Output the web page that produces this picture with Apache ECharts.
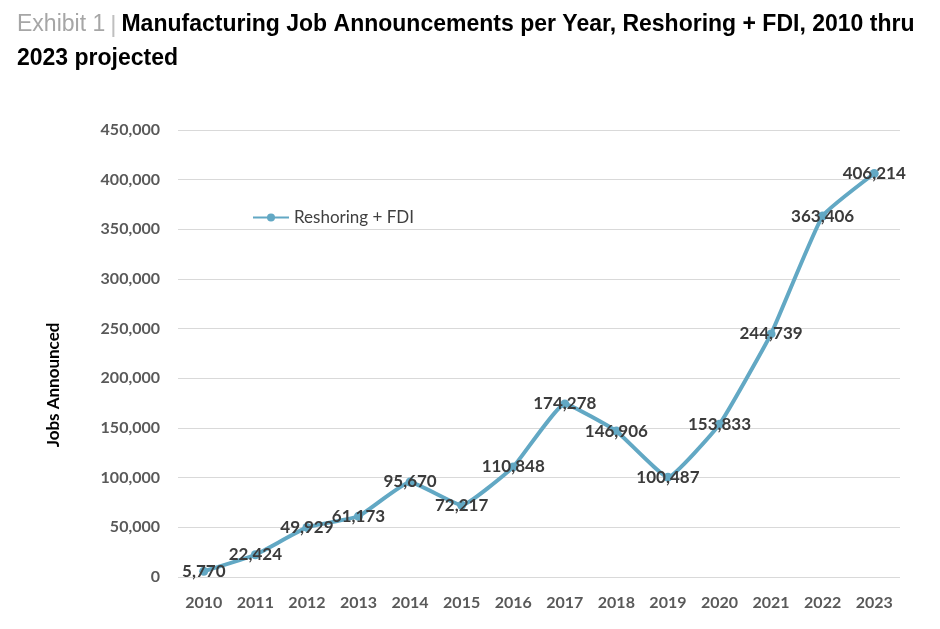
<!DOCTYPE html>
<html>
<head>
<meta charset="utf-8">
<script src="https://cdn.jsdelivr.net/npm/echarts@6/dist/echarts.min.js"></script>
<style>
  html, body { margin: 0; padding: 0; background: #fff; }
  #chart { width: 940px; height: 629px; }
</style>
</head>
<body>
<div id="chart"></div>
<script>
// 数据
var years = ["2010", "2011", "2012", "2013", "2014", "2015", "2016",
  "2017", "2018", "2019", "2020", "2021", "2022", "2023"];
var jobs = [5770, 22424, 49929, 61173, 95670, 72217, 110848,
  174278, 146906, 100487, 153833, 244739, 363406, 406214];
var seriesName = "Reshoring + FDI";

var myChart = echarts.init(document.getElementById("chart"));
var lineColor = "#62a8c4";
var narrow = "'Liberation Sans Narrow', 'Arial Narrow', 'Liberation Sans', sans-serif";

var option = {
  animation: false,
  title: {
    left: 12,
    top: 3,
    text: "{a|Exhibit 1} {s||} {b|Manufacturing Job Announcements per Year, Reshoring + FDI, 2010 thru}\n{b|2023 projected}",
    textStyle: {
      rich: {
        a: { fontFamily: narrow, fontSize: 23, fontWeight: "normal", color: "#a6a6a6", lineHeight: 34 },
        s: { fontFamily: narrow, fontSize: 24, fontWeight: "normal", color: "#bfbfbf", lineHeight: 34 },
        b: { fontFamily: narrow, fontSize: 23, fontWeight: "bold", color: "#000", lineHeight: 34 }
      }
    }
  },
  legend: {
    left: 247,
    top: 204,
    itemWidth: 36,
    itemHeight: 10,
    itemGap: 3,
    textStyle: {
      fontFamily: "Lato",
      fontSize: 17,
      color: "#404040"
    }
  },
  grid: {
    left: 178,
    right: 40,
    top: 130,
    bottom: 52
  },
  xAxis: {
    type: "category",
    data: years,
    boundaryGap: true,
    axisTick: { show: false },
    axisLine: { show: false },
    axisLabel: {
      fontFamily: "Lato",
      fontWeight: "bold",
      fontSize: 16,
      color: "#595959",
      margin: 18
    }
  },
  yAxis: {
    type: "value",
    min: 0,
    max: 450000,
    interval: 50000,
    axisTick: { show: false },
    axisLine: { show: false },
    axisLabel: {
      fontFamily: "Lato",
      fontWeight: "bold",
      fontSize: 16,
      color: "#595959",
      margin: 18,
      formatter: function (v) {
        return v.toLocaleString("en-US");
      }
    },
    splitLine: {
      lineStyle: { color: "#d9d9d9", width: 1 }
    }
  },
  graphic: [
    {
      type: "text",
      x: 54,
      y: 385,
      rotation: Math.PI / 2,
      style: {
        text: "Jobs Announced",
        fontFamily: "Lato",
        fontWeight: "bold",
        fontSize: 17,
        fill: "#000",
        align: "center",
        verticalAlign: "middle"
      }
    }
  ],
  series: [
    {
      name: seriesName,
      type: "line",
      data: jobs,
      smooth: 0.12,
      symbol: "circle",
      symbolSize: 9,
      color: lineColor,
      lineStyle: { width: 4, color: lineColor },
      itemStyle: { color: lineColor },
      label: {
        show: true,
        position: "inside",
        fontFamily: "Lato",
        fontWeight: "bold",
        fontSize: 17,
        color: "#3b3b3b",
        formatter: function (p) {
          return p.value.toLocaleString("en-US");
        }
      }
    }
  ]
};

myChart.setOption(option);
window.addEventListener("resize", function () {
  myChart.resize();
});
</script>
</body>
</html>
